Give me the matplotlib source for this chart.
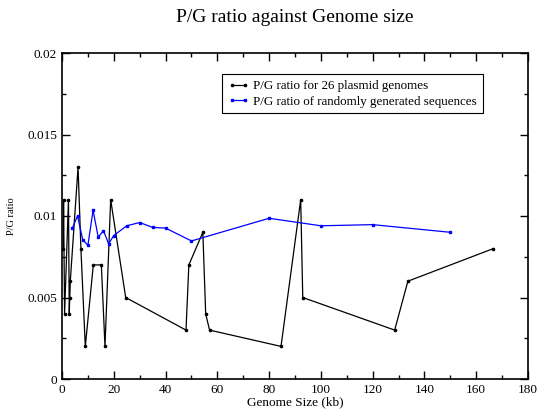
import matplotlib
matplotlib.use("Agg")
import matplotlib.pyplot as plt
from matplotlib.ticker import MultipleLocator

plt.rcParams['font.family'] = ['Liberation Serif', 'DejaVu Serif']

# P/G ratio of the 26 plasmid genomes (size in kb)
plasmid_size = [0.5, 0.6, 1.0, 2.5, 2.8, 3.0, 3.2, 6.2, 7.3, 9.0, 12.1, 15.2, 16.6,
                18.8, 24.6, 47.9, 49.0, 54.4, 55.5, 57.0, 84.6, 92.2, 93.0, 128.5,
                133.6, 166.6]
plasmid_pg = [0.008, 0.011, 0.004, 0.011, 0.004, 0.005, 0.006, 0.013, 0.008, 0.002,
              0.007, 0.007, 0.002, 0.011, 0.005, 0.003, 0.007, 0.009, 0.004, 0.003,
              0.002, 0.011, 0.005, 0.003, 0.006, 0.008]

# randomly generated sequences
random_size = [4, 6, 8, 10, 12, 14, 16, 18, 20, 25, 30, 35, 40, 50, 80, 100, 120, 150]
random_pg = [0.00926, 0.0100, 0.00855, 0.0082, 0.01035, 0.0087, 0.0091, 0.0083, 0.0088,
             0.0094, 0.0096, 0.0093, 0.00926, 0.00847, 0.00986, 0.0094, 0.00947, 0.0090]

fig = plt.figure(figsize=(5.38, 4.12), dpi=100)
ax = fig.add_axes([62/538, 1 - 379/412, 466/538, 326/412])

ax.plot(plasmid_size, plasmid_pg, color='black', lw=0.9, marker='o', ms=1.6,
        label='P/G ratio for 26 plasmid genomes')
ax.plot(random_size, random_pg, color='#0000ff', lw=0.9, marker='s', ms=1.6,
        label='P/G ratio of randomly generated sequences')

ax.set_xlim(0, 180)
ax.set_ylim(0, 0.02)
ax.xaxis.set_major_locator(MultipleLocator(20))
ax.xaxis.set_minor_locator(MultipleLocator(10))
ax.yaxis.set_minor_locator(MultipleLocator(0.0025))
ax.set_yticks([0, 0.005, 0.01, 0.015, 0.02])
ax.set_yticklabels(['0', '0.005', '0.01', '0.015', '0.02'])
ax.tick_params(which='both', direction='in', top=True, right=True, labelsize=9.5, width=1)
ax.tick_params(which='major', length=6)
ax.tick_params(which='minor', length=3)
for s in ax.spines.values():
    s.set_linewidth(1.2)

ax.set_xlabel('Genome Size (kb)', fontsize=9.5, labelpad=0)
ax.set_ylabel('P/G ratio', fontsize=7.5, labelpad=8)
ax.set_title('P/G ratio against Genome size', fontsize=14, pad=22)

leg = ax.legend(loc='upper left', bbox_to_anchor=(0.344, 0.935), fontsize=9.4,
                numpoints=2, handlelength=1.6, handletextpad=0.3, borderpad=0.45,
                labelspacing=0.25, borderaxespad=0, fancybox=False, framealpha=1,
                edgecolor='black')
leg.get_frame().set_linewidth(0.8)

fig.savefig('out.png', dpi=100)
